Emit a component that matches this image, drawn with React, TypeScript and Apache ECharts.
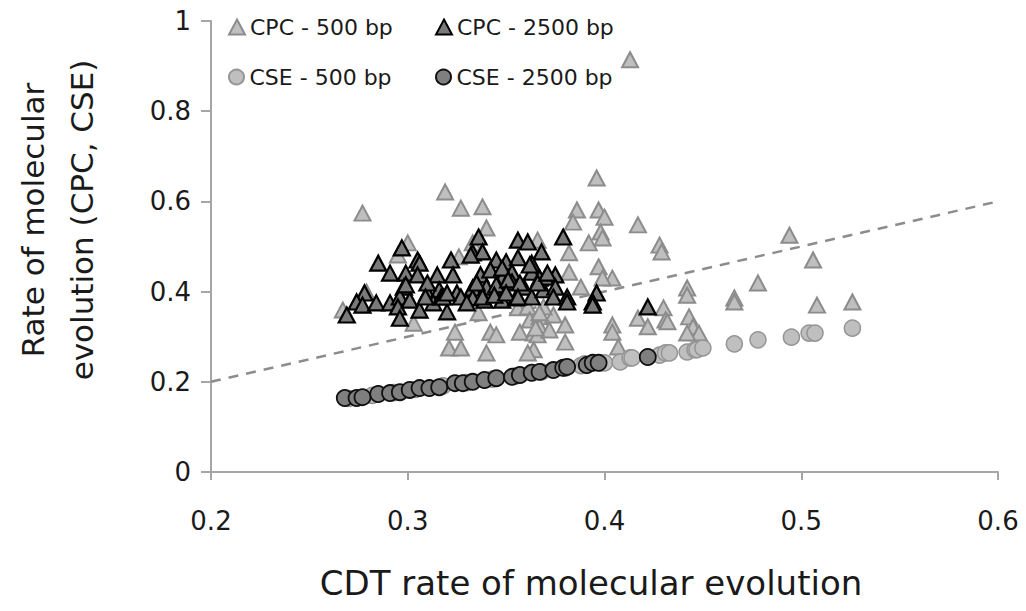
import React, { useEffect, useRef } from "react";
import * as echarts from "echarts";

// CPC - 500 bp (light triangles)
const cpc500: number[][] = [
  [0.277, 0.574], [0.300, 0.508], [0.295, 0.481], [0.279, 0.399], [0.267, 0.359],
  [0.303, 0.330], [0.319, 0.621], [0.327, 0.585], [0.338, 0.588], [0.340, 0.541],
  [0.326, 0.477], [0.333, 0.508], [0.324, 0.310], [0.321, 0.275], [0.327, 0.275],
  [0.336, 0.353], [0.342, 0.310], [0.345, 0.304], [0.340, 0.264], [0.357, 0.310],
  [0.356, 0.364], [0.361, 0.366], [0.362, 0.337], [0.367, 0.344], [0.374, 0.348],
  [0.367, 0.322], [0.364, 0.308], [0.366, 0.304], [0.372, 0.315], [0.380, 0.326],
  [0.380, 0.288], [0.364, 0.271], [0.361, 0.264], [0.366, 0.514], [0.369, 0.366],
  [0.365, 0.319], [0.367, 0.353], [0.396, 0.652], [0.386, 0.581], [0.397, 0.581],
  [0.400, 0.565], [0.384, 0.554], [0.417, 0.548], [0.398, 0.532], [0.399, 0.519],
  [0.392, 0.508], [0.428, 0.503], [0.429, 0.488], [0.382, 0.486], [0.397, 0.455],
  [0.382, 0.443], [0.404, 0.430], [0.399, 0.430], [0.388, 0.410], [0.442, 0.408],
  [0.442, 0.392], [0.430, 0.364], [0.431, 0.337], [0.417, 0.341], [0.422, 0.322],
  [0.432, 0.333], [0.443, 0.344], [0.445, 0.322], [0.448, 0.308], [0.442, 0.308],
  [0.404, 0.326], [0.404, 0.310], [0.407, 0.277], [0.494, 0.525], [0.506, 0.470],
  [0.478, 0.419], [0.466, 0.386], [0.466, 0.377], [0.508, 0.370], [0.526, 0.377],
  [0.413, 0.914],
];

// CPC - 2500 bp (dark triangles)
const cpc2500: number[][] = [
  [0.297, 0.497], [0.285, 0.463], [0.291, 0.441], [0.299, 0.441], [0.305, 0.470],
  [0.306, 0.463], [0.305, 0.437], [0.315, 0.437], [0.322, 0.470], [0.323, 0.437],
  [0.298, 0.410], [0.310, 0.397], [0.316, 0.404], [0.278, 0.397], [0.274, 0.377],
  [0.277, 0.370], [0.284, 0.375], [0.291, 0.375], [0.296, 0.388], [0.295, 0.366],
  [0.301, 0.381], [0.306, 0.359], [0.313, 0.375], [0.320, 0.355], [0.296, 0.341],
  [0.269, 0.348], [0.317, 0.388], [0.325, 0.397], [0.299, 0.415], [0.336, 0.521],
  [0.356, 0.514], [0.361, 0.510], [0.333, 0.486], [0.338, 0.488], [0.368, 0.488],
  [0.345, 0.470], [0.350, 0.466], [0.356, 0.475], [0.363, 0.463], [0.337, 0.437],
  [0.342, 0.448], [0.348, 0.430], [0.353, 0.443], [0.363, 0.443], [0.367, 0.430],
  [0.310, 0.419], [0.333, 0.408], [0.340, 0.410], [0.346, 0.410], [0.353, 0.421],
  [0.359, 0.410], [0.309, 0.388], [0.318, 0.388], [0.327, 0.388], [0.333, 0.386],
  [0.339, 0.381], [0.348, 0.381], [0.355, 0.386], [0.363, 0.388], [0.369, 0.404],
  [0.379, 0.521], [0.375, 0.437], [0.370, 0.432], [0.375, 0.410], [0.366, 0.419],
  [0.374, 0.388], [0.381, 0.388], [0.381, 0.377], [0.396, 0.397], [0.394, 0.377],
  [0.394, 0.370], [0.422, 0.366], [0.332, 0.481], [0.362, 0.459], [0.348, 0.452],
  [0.371, 0.441], [0.335, 0.419], [0.345, 0.415], [0.351, 0.426], [0.357, 0.419],
  [0.320, 0.397], [0.338, 0.388], [0.344, 0.392], [0.350, 0.397], [0.356, 0.388],
  [0.330, 0.375],
];

// CSE - 500 bp (light circles)
const cse500: number[][] = [
  [0.270, 0.163], [0.282, 0.170], [0.293, 0.176], [0.304, 0.183], [0.318, 0.191],
  [0.330, 0.198], [0.343, 0.206], [0.355, 0.213], [0.368, 0.222], [0.380, 0.230],
  [0.388, 0.236], [0.390, 0.240], [0.398, 0.242], [0.400, 0.242], [0.408, 0.244],
  [0.413, 0.253], [0.414, 0.253], [0.428, 0.259], [0.431, 0.264], [0.433, 0.264],
  [0.442, 0.266], [0.446, 0.271], [0.447, 0.271], [0.450, 0.275], [0.466, 0.284],
  [0.478, 0.293], [0.495, 0.299], [0.504, 0.308], [0.507, 0.308], [0.526, 0.319],
];

// CSE - 2500 bp (dark circles)
const cse2500: number[][] = [
  [0.268, 0.164], [0.274, 0.164], [0.277, 0.166], [0.285, 0.173], [0.291, 0.175],
  [0.296, 0.177], [0.301, 0.182], [0.306, 0.186], [0.311, 0.186], [0.316, 0.188],
  [0.324, 0.197], [0.328, 0.197], [0.333, 0.200], [0.339, 0.204], [0.345, 0.208],
  [0.353, 0.211], [0.357, 0.215], [0.363, 0.220], [0.367, 0.222], [0.374, 0.226],
  [0.379, 0.231], [0.381, 0.233], [0.391, 0.237], [0.394, 0.242], [0.397, 0.242],
  [0.422, 0.255],
];

// 1:1 reference line
const identityLine: number[][] = [[0.2, 0.2], [0.6, 0.6]];

const seriesNames = ["CPC - 500 bp", "CPC - 2500 bp", "CSE - 500 bp", "CSE - 2500 bp"];
const xTitle = "CDT rate of molecular evolution";
const yTitleLines = ["Rate of molecular", "evolution (CPC, CSE)"];

export default function App() {
  const ref = useRef<HTMLDivElement>(null);
  useEffect(() => {
    const chart = echarts.init(ref.current!, null, { renderer: "svg" });
    const font = "DejaVu Sans";
    const textColor = "#1a1a1a";
    const axisColor = "#a6a6a6";
    const fmt = (v: number) => String(Math.round(v * 10) / 10);
    const legendBase = {
      itemWidth: 16,
      itemHeight: 15,
      selectedMode: false,
      padding: 0,
      textStyle: { fontFamily: font, fontSize: 22, color: textColor },
    };
    chart.setOption({
      animation: false,
      backgroundColor: "#ffffff",
      grid: { left: 211, right: 28, top: 21, bottom: 139 },
      legend: [
        { ...legendBase, data: [seriesNames[0]], left: 228, top: 16 },
        { ...legendBase, data: [seriesNames[1]], left: 435, top: 16 },
        { ...legendBase, data: [seriesNames[2]], left: 228, top: 66 },
        { ...legendBase, data: [seriesNames[3]], left: 435, top: 66 },
      ],
      xAxis: {
        type: "value",
        min: 0.2,
        max: 0.6,
        interval: 0.1,
        axisLine: { onZero: false, lineStyle: { color: axisColor, width: 2 } },
        axisTick: { show: true, length: 8, lineStyle: { color: axisColor, width: 2 } },
        splitLine: { show: false },
        axisLabel: { fontFamily: font, fontSize: 26, color: textColor, margin: 36, formatter: fmt },
      },
      yAxis: {
        type: "value",
        min: 0,
        max: 1,
        interval: 0.2,
        axisLine: { show: true, onZero: false, lineStyle: { color: axisColor, width: 2 } },
        axisTick: { show: true, length: 10, lineStyle: { color: axisColor, width: 2 } },
        splitLine: { show: false },
        axisLabel: { fontFamily: font, fontSize: 26, color: textColor, margin: 20, formatter: fmt },
      },
      graphic: [
        {
          type: "text",
          x: 591,
          y: 583,
          style: {
            text: xTitle,
            fontFamily: font,
            fontSize: 34,
            fill: textColor,
            align: "center",
            verticalAlign: "middle",
          },
        },
        {
          type: "text",
          x: 33,
          y: 220,
          rotation: Math.PI / 2,
          style: {
            text: yTitleLines[0],
            fontFamily: font,
            fontSize: 31,
            fill: textColor,
            align: "center",
            verticalAlign: "middle",
          },
        },
        {
          type: "text",
          x: 82,
          y: 220,
          rotation: Math.PI / 2,
          style: {
            text: yTitleLines[1],
            fontFamily: font,
            fontSize: 31,
            fill: textColor,
            align: "center",
            verticalAlign: "middle",
          },
        },
      ],
      series: [
        {
          type: "line",
          data: identityLine,
          symbol: "none",
          silent: true,
          lineStyle: { color: "#8c8c8c", width: 2.5, type: [10, 8] },
          z: 1,
        },
        {
          name: seriesNames[0],
          type: "scatter",
          symbol: "triangle",
          symbolSize: [16, 15],
          data: cpc500,
          itemStyle: { color: "#bfbfbf", borderColor: "#8c8c8c", borderWidth: 2, opacity: 1 },
          z: 2,
        },
        {
          name: seriesNames[1],
          type: "scatter",
          symbol: "triangle",
          symbolSize: [16, 15],
          data: cpc2500,
          itemStyle: { color: "#7a7a7a", borderColor: "#000000", borderWidth: 2.2, opacity: 1 },
          z: 3,
        },
        {
          name: seriesNames[2],
          type: "scatter",
          symbol: "circle",
          symbolSize: 16,
          data: cse500,
          itemStyle: { color: "#bfbfbf", borderColor: "#959595", borderWidth: 1.5, opacity: 1 },
          z: 4,
        },
        {
          name: seriesNames[3],
          type: "scatter",
          symbol: "circle",
          symbolSize: 16,
          data: cse2500,
          itemStyle: { color: "#7f7f7f", borderColor: "#111111", borderWidth: 1.8, opacity: 1 },
          z: 5,
        },
      ],
    });
    return () => chart.dispose();
  }, []);
  return (
    <div
      ref={ref}
      style={{ position: "fixed", left: 0, top: 0, width: 1026, height: 611 }}
    />
  );
}
